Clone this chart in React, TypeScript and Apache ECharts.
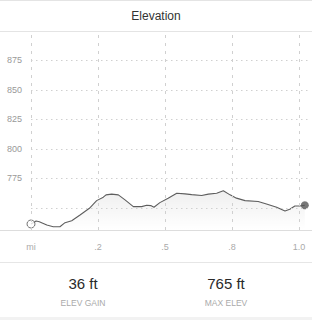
import React, { useEffect, useRef } from "react";
import * as echarts from "echarts";

const title = "Elevation";
const miles = [0, 0.019, 0.031, 0.059, 0.083, 0.108, 0.127, 0.152, 0.183, 0.218, 0.245, 0.27, 0.28, 0.301, 0.326, 0.351, 0.382, 0.413, 0.432, 0.447, 0.459, 0.481, 0.512, 0.544, 0.575, 0.6, 0.637, 0.662, 0.693, 0.718, 0.743, 0.767, 0.799, 0.848, 0.879, 0.917, 0.948, 0.966, 0.985, 1.004, 1.022];
const elevations = [736.4, 738.9, 738.3, 735.5, 734.1, 734.1, 737.5, 739.2, 744.0, 749.7, 756.2, 759.1, 761.1, 761.7, 761.1, 756.8, 751.1, 751.1, 752.3, 752.0, 750.6, 754.5, 758.3, 762.5, 761.9, 761.3, 760.5, 761.7, 762.5, 764.5, 761.1, 758.3, 756.2, 755.4, 753.4, 750.6, 747.4, 748.9, 751.7, 751.7, 752.3];
const xTickValues = [0, 0.25, 0.5, 0.75, 1.0];
const xTickLabels = ["mi", ".2", ".5", ".8", "1.0"];
const yTickValues = [775, 800, 825, 850, 875];
const yGridValues = [750, 775, 800, 825, 850, 875];
const statValues = ["36 ft", "765 ft"];
const statLabels = ["ELEV GAIN", "MAX ELEV"];

const FONT = "'Liberation Sans', Arial, sans-serif";

export default function App() {
  const ref = useRef<HTMLDivElement>(null);
  useEffect(() => {
    if (!ref.current) return;
    const chart = echarts.init(ref.current, undefined, { renderer: "svg" });
    const lineData = miles.map((m, i) => [m, elevations[i]]);
    const last = miles.length - 1;
    const statX = [83, 226];
    chart.setOption({
      animation: false,
      backgroundColor: "#ffffff",
      grid: { left: 31, right: 4, top: 31, bottom: 90 },
      xAxis: {
        type: "value",
        min: 0,
        max: 1.034,
        axisLine: { show: false },
        axisTick: { show: false },
        splitLine: { show: false },
        axisLabel: {
          customValues: xTickValues,
          formatter: (v: number) => {
            const i = xTickValues.findIndex((t) => Math.abs(t - v) < 1e-6);
            return i >= 0 ? xTickLabels[i] : "";
          },
          color: "#aaaaaa",
          fontSize: 9,
          fontFamily: FONT,
          margin: 12,
        },
      },
      yAxis: {
        type: "value",
        min: 731.3,
        max: 900,
        axisLine: { show: false },
        axisTick: { show: false },
        splitLine: { show: false },
        axisLabel: {
          customValues: yTickValues,
          color: "#999999",
          fontSize: 9,
          fontFamily: FONT,
          margin: 9,
        },
      },
      series: [
        {
          type: "line",
          data: lineData,
          showSymbol: false,
          lineStyle: { color: "#5e5e5e", width: 1.1 },
          areaStyle: {
            color: new echarts.graphic.LinearGradient(0, 0, 0, 1, [
              { offset: 0, color: "rgba(0,0,0,0.09)" },
              { offset: 1, color: "rgba(0,0,0,0)" },
            ]),
          },
          markLine: {
            silent: true,
            symbol: ["none", "none"],
            label: { show: false },
            data: [
              ...yGridValues.map((v) => ({
                yAxis: v,
                lineStyle: { color: "#d0d0d0", width: 1, type: [1.5, 3.5] },
              })),
              ...xTickValues.map((v) => ({
                xAxis: v,
                lineStyle: { color: "#d0d0d0", width: 1, type: [3, 5] },
              })),
            ],
          },
          z: 3,
        },
        {
          type: "scatter",
          data: [
            { value: lineData[0], itemStyle: { color: "#ffffff", borderColor: "#555555", borderWidth: 1 } },
            { value: lineData[last], itemStyle: { color: "#555555" } },
          ],
          symbolSize: 8,
          z: 4,
        },
      ],
      graphic: [
        { type: "line", shape: { x1: 0, y1: 0.5, x2: 312, y2: 0.5 }, style: { stroke: "#e4e4e4", lineWidth: 1 } },
        { type: "line", shape: { x1: 0, y1: 31.5, x2: 312, y2: 31.5 }, style: { stroke: "#e4e4e4", lineWidth: 1 } },
        { type: "line", shape: { x1: 0, y1: 230.5, x2: 312, y2: 230.5 }, style: { stroke: "#dddddd", lineWidth: 1 } },
        { type: "line", shape: { x1: 0, y1: 262.5, x2: 312, y2: 262.5 }, style: { stroke: "#e6e6e6", lineWidth: 1 } },
        { type: "rect", shape: { x: 0, y: 317, width: 312, height: 3 }, style: { fill: "#f2f2f2" } },
        {
          type: "text",
          x: 156,
          y: 16,
          style: { text: title, fill: "#333333", font: `12px ${FONT}`, textAlign: "center", textVerticalAlign: "middle" },
        },
        ...statValues.map((s, i) => ({
          type: "text",
          x: statX[i],
          y: 283,
          style: { text: s, fill: "#2a2a2a", font: `15px ${FONT}`, textAlign: "center", textVerticalAlign: "middle" },
        })),
        ...statLabels.map((s, i) => ({
          type: "text",
          x: statX[i],
          y: 303,
          style: { text: s, fill: "#aaaaaa", font: `8.5px ${FONT}`, textAlign: "center", textVerticalAlign: "middle" },
        })),
      ],
    });
    return () => chart.dispose();
  }, []);
  return (
    <div
      ref={ref}
      style={{ position: "fixed", left: 0, top: 0, width: 312, height: 320 }}
    />
  );
}
